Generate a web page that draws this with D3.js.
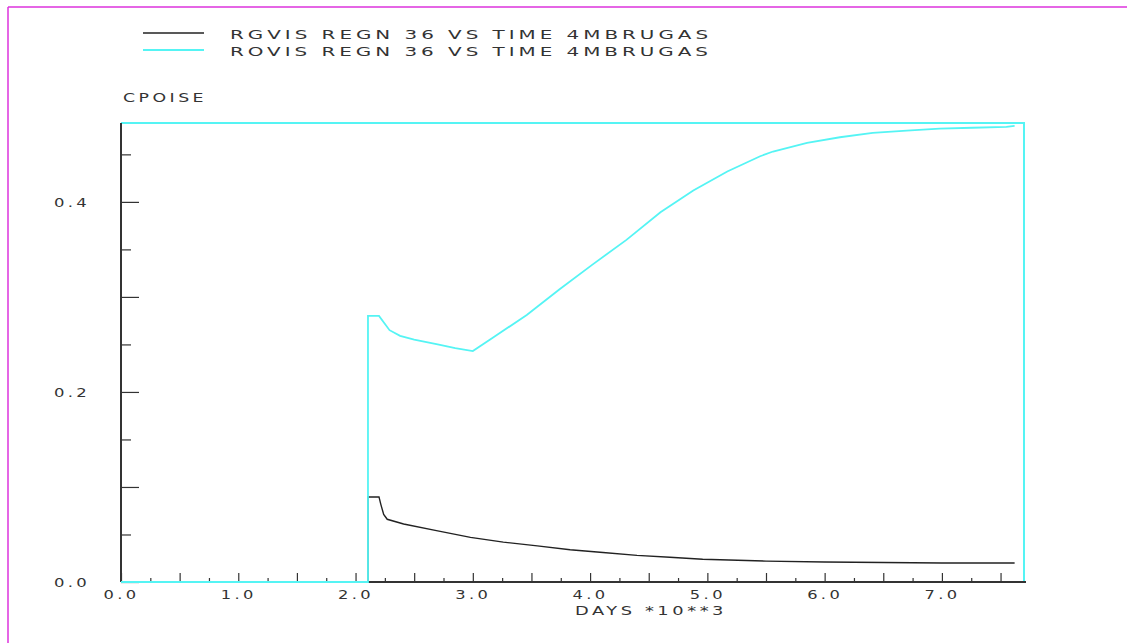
<!DOCTYPE html>
<html>
<head>
<meta charset="utf-8">
<script src="https://cdn.jsdelivr.net/npm/d3@7"></script>
<style>
  body { margin: 0; background: #fff; }
  svg { display: block; }
  .lbl { font-family: "DejaVu Sans", sans-serif; fill: #333; }
</style>
</head>
<body>
<svg id="chart" width="1127" height="643"></svg>
<script>
// RGVIS (black) series
const rgvisDays = [0, 2.106, 2.106, 2.20, 2.215, 2.24, 2.27, 2.41, 2.69, 2.98, 3.26, 3.55, 3.83, 4.11, 4.40, 4.68, 4.96, 5.5, 6.0, 6.5, 7.0, 7.62];
const rgvisVals = [0, 0, 0.0895, 0.0895, 0.082, 0.071, 0.066, 0.061, 0.054, 0.047, 0.042, 0.038, 0.034, 0.031, 0.028, 0.026, 0.024, 0.022, 0.021, 0.0205, 0.020, 0.020];

// ROVIS (cyan) series
const rovisDays = [0, 2.106, 2.106, 2.20, 2.29, 2.38, 2.5, 2.7, 2.85, 3.0, 3.17, 3.46, 3.74, 4.02, 4.31, 4.60, 4.88, 5.17, 5.45, 5.56, 5.85, 6.13, 6.41, 6.70, 6.98, 7.26, 7.55, 7.62];
const rovisVals = [0, 0, 0.280, 0.280, 0.265, 0.259, 0.255, 0.250, 0.246, 0.243, 0.257, 0.281, 0.308, 0.334, 0.360, 0.389, 0.412, 0.432, 0.448, 0.453, 0.462, 0.468, 0.4726, 0.475, 0.477, 0.478, 0.479, 0.480];

const legendLabels = ['RGVIS REGN 36 VS TIME 4MBRUGAS', 'ROVIS REGN 36 VS TIME 4MBRUGAS'];
const seriesColors = ['#222', '#55f4f4'];
const xTickVals = d3.range(0, 7.51, 0.25);
const xLabelVals = [0, 1, 2, 3, 4, 5, 6, 7];
const yTickVals = d3.range(0, 0.451, 0.05);
const yLabelVals = [0, 0.2, 0.4];

const svg = d3.select('#chart');
const box = { l: 121, r: 1024, t: 123, b: 582 };

const x = d3.scaleLinear().domain([0, 7.7]).range([box.l, box.r]);
const y = d3.scaleLinear().domain([0, 0.483]).range([box.b, box.t]);

// wide plotter-style lettering: stretch glyphs + spacing to a fixed width
function plotText (sel, size, len) {
  return sel.attr('class', 'lbl')
    .style('font-size', size + 'px')
    .style('letter-spacing', '2.5px')
    .attr('textLength', len)
    .attr('lengthAdjust', 'spacingAndGlyphs');
}

// page border
svg.append('line').attr('x1', 8).attr('x2', 1127).attr('y1', 7).attr('y2', 7)
  .attr('stroke', '#dd33dd').attr('stroke-width', 1.5);
svg.append('line').attr('x1', 8).attr('x2', 8).attr('y1', 7).attr('y2', 643)
  .attr('stroke', '#dd33dd').attr('stroke-width', 1.5);

// frame top / right (cyan)
svg.append('path')
  .attr('d', `M${box.l},${box.t}H${box.r}V${box.b}`)
  .attr('fill', 'none').attr('stroke', seriesColors[1]).attr('stroke-width', 2);

// x axis
const isMajor = v => Math.abs(v * 2 - Math.round(v * 2)) < 1e-6;
const isInt = v => xLabelVals.some(k => Math.abs(v - k) < 1e-6);
const gx = svg.append('g').attr('transform', `translate(0,${box.b})`)
  .call(d3.axisBottom(x).tickValues(xTickVals).tickSizeOuter(0).tickSizeInner(0)
    .tickFormat(d => isInt(d) ? d.toFixed(1) : ''));
gx.select('.domain').attr('stroke', '#333').attr('stroke-width', 2)
  .attr('d', `M${box.l},0H${box.r + 2}`);
gx.selectAll('.tick line').attr('y2', d => isMajor(d) ? -9 : -4)
  .attr('stroke', '#333').attr('stroke-width', 1.2);
gx.selectAll('.tick text').filter(d => !isInt(d)).remove();
gx.selectAll('.tick text').attr('y', 17).attr('dy', 0)
  .attr('font-family', null).attr('fill', null)
  .call(plotText, 12, 36);

// y axis
const gy = svg.append('g').attr('transform', `translate(${box.l},0)`)
  .call(d3.axisLeft(y).tickValues(yTickVals).tickSizeOuter(0).tickSizeInner(0)
    .tickFormat(d => yLabelVals.some(v => Math.abs(v - d) < 1e-6) ? d.toFixed(1) : ''));
gy.select('.domain').attr('stroke', '#333').attr('stroke-width', 2)
  .attr('d', `M0,${box.t}V${box.b}`);
gy.selectAll('.tick line').attr('x2', d => Math.round(d * 20) % 2 === 0 ? 18 : 10)
  .attr('stroke', '#333').attr('stroke-width', 1.2);
gy.selectAll('.tick text').filter(function () { return !this.textContent; }).remove();
gy.selectAll('.tick text').attr('x', -31).attr('dy', '0.36em')
  .attr('font-family', null).attr('fill', null)
  .call(plotText, 12.5, 36);

// series
const line = d3.line().x(d => x(d[0])).y(d => y(d[1]));
const series = [
  d3.zip(rgvisDays, rgvisVals),
  d3.zip(rovisDays, rovisVals),
];
series.forEach((pts, i) => {
  svg.append('path').datum(pts)
    .attr('d', line)
    .attr('fill', 'none')
    .attr('stroke', seriesColors[i])
    .attr('stroke-width', i ? 1.8 : 1.4);
});

// titles
svg.append('text').attr('x', 123).attr('y', 102)
  .call(plotText, 12.5, 84)
  .text('CPOISE');
svg.append('text').attr('x', 575).attr('y', 615)
  .call(plotText, 12.5, 152)
  .text('DAYS *10**3');

// legend
legendLabels.forEach((s, i) => {
  const ly = 33 + i * 17;
  svg.append('line').attr('x1', 143).attr('x2', 204).attr('y1', ly).attr('y2', ly)
    .attr('stroke', seriesColors[i]).attr('stroke-width', i ? 2 : 1.5);
  svg.append('text').attr('x', 230).attr('y', ly + 6)
    .call(plotText, 12.5, 482)
    .text(s);
});
</script>
</body>
</html>
